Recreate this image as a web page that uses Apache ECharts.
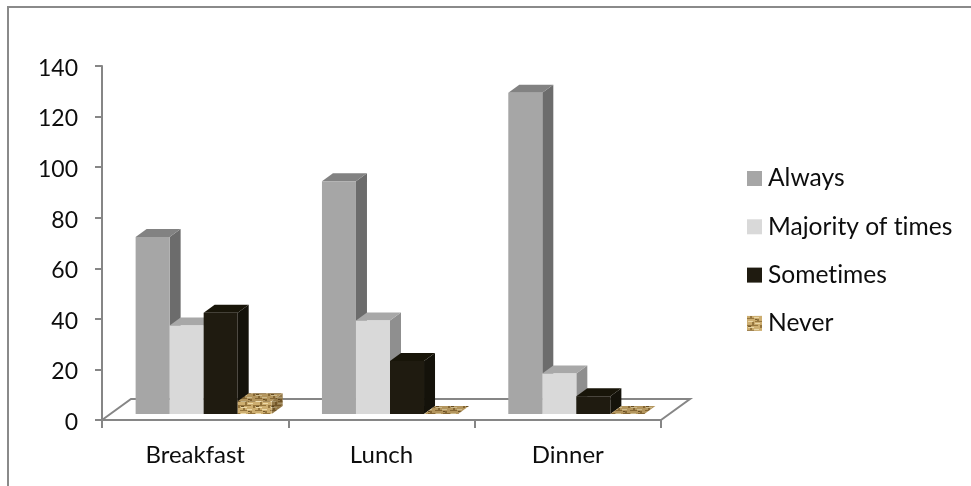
<!DOCTYPE html>
<html>
<head>
<meta charset="utf-8">
<style>html,body{margin:0;padding:0;background:#fff}#chart{width:971px;height:486px}</style>
<script src="https://cdn.jsdelivr.net/npm/echarts@6/dist/echarts.min.js"></script>
</head>
<body>
<div id="chart"></div>
<script>
// Meal-time frequencies, drawn as a pseudo-3D clustered column chart.
const categories = ['Breakfast', 'Lunch', 'Dinner'];
const always = [70, 92, 127];
const majority = [35, 37, 16];
const sometimes = [40, 21, 7];
const never = [5, 0, 0];
const yTicks = { min: 0, max: 140, interval: 20 };

const FONT = 'Lato, "Open Sans", sans-serif';
const AXIS_GREY = '#868686';
const TEXT = '#0d0d0d';

// Oblique projection: how far the floor and each column recede.
const FLOOR_DEPTH = [29, -21];
const BAR_DEPTH = [11, -8];
const BAR_INSET = [8.5, -6];
const BAR_BAND_SHARE = 0.1826;

// Keep "ti" as separate letters in canvas text instead of Lato's ligature.
const nativeGetContext = HTMLCanvasElement.prototype.getContext;
HTMLCanvasElement.prototype.getContext = function (kind, opts) {
  const ctx = nativeGetContext.call(this, kind, opts);
  if (kind === '2d' && ctx) ctx.textRendering = 'optimizeSpeed';
  return ctx;
};

// Woven tan texture for the last series, in three shades for the three faces.
function weave(shade) {
  const c = document.createElement('canvas');
  c.width = 15; c.height = 12;
  const g = c.getContext('2d');
  g.fillStyle = '#cdae70';
  g.fillRect(0, 0, 15, 12);
  g.fillStyle = '#94743c';
  g.fillRect(0, 2, 7, 1);
  g.fillRect(8, 5, 7, 1);
  g.fillRect(0, 9, 11, 1);
  g.fillRect(3, 0, 2, 2);
  g.fillRect(10, 3, 2, 2);
  g.fillRect(5, 6, 2, 3);
  g.fillRect(13, 9, 2, 3);
  g.fillStyle = '#ecd9a8';
  g.fillRect(7, 1, 5, 1);
  g.fillRect(1, 5, 5, 1);
  g.fillRect(8, 7, 5, 1);
  g.fillRect(1, 11, 6, 1);
  g.fillStyle = '#6f5528';
  g.fillRect(8, 3, 2, 1);
  g.fillRect(1, 10, 3, 1);
  if (shade > 0) {
    g.fillStyle = 'rgba(60,40,10,' + shade + ')';
    g.fillRect(0, 0, 15, 12);
  }
  return { image: c, repeat: 'repeat' };
}

const faces = [
  { name: 'Always', values: always, front: '#a6a6a6', side: '#6c6c6c', top: '#828282' },
  { name: 'Majority of times', values: majority, front: '#d9d9d9', side: '#8f8f8f', top: '#a8a8a8' },
  { name: 'Sometimes', values: sometimes, front: '#1f1b10', side: '#14120a', top: '#181509' },
  { name: 'Never', values: never, front: weave(0), side: weave(0.4), top: weave(0.18) }
];

function poly(points, fill) {
  return {
    type: 'polygon',
    shape: { points: points },
    style: { fill: fill }
  };
}

function columnRenderer(face, index) {
  return function (params, api) {
    const cat = api.value(0);
    const base = api.coord([cat, 0]);
    const head = api.coord([cat, api.value(1)]);
    const w = api.size([1, 0])[0] * BAR_BAND_SHARE;
    const x0 = base[0] + BAR_INSET[0] + (index - 2) * w;
    const x1 = x0 + w;
    const yb = base[1] + BAR_INSET[1];
    const yt = head[1] + BAR_INSET[1];
    const dx = BAR_DEPTH[0], dy = BAR_DEPTH[1];
    return {
      type: 'group',
      children: [
        poly([[x1, yb], [x1 + dx, yb + dy], [x1 + dx, yt + dy], [x1, yt]], face.side),
        poly([[x0, yt], [x1, yt], [x1 + dx, yt + dy], [x0 + dx, yt + dy]], face.top),
        poly([[x0, yb], [x1, yb], [x1, yt], [x0, yt]], face.front)
      ]
    };
  };
}

// Floor outline, anchored on the axis ends.
function floorRenderer(params, api) {
  const a = api.coord([0, 0]);
  const b = api.coord([categories.length - 1, 0]);
  const half = api.size([1, 0])[0] / 2;
  const left = a[0] - half, right = b[0] + half, y = a[1];
  return {
    type: 'polyline',
    shape: { points: [
      [left, y],
      [left + FLOOR_DEPTH[0], y + FLOOR_DEPTH[1]],
      [right + FLOOR_DEPTH[0], y + FLOOR_DEPTH[1]],
      [right, y]
    ] },
    style: { fill: null, stroke: AXIS_GREY, lineWidth: 2 }
  };
}

const series = [{
  type: 'custom',
  name: 'floor',
  silent: true,
  clip: false,
  z: 1,
  renderItem: floorRenderer,
  data: [[0, 0]]
}].concat(faces.map(function (face, i) {
  return {
    type: 'custom',
    name: face.name,
    clip: false,
    z: 2 + i,
    itemStyle: { color: face.front },
    encode: { x: 0, y: 1 },
    renderItem: columnRenderer(face, i),
    data: face.values.map(function (v, c) { return [c, v]; })
  };
}));

const chart = echarts.init(document.getElementById('chart'), null, { renderer: 'canvas' });
chart.setOption({
  animation: false,
  backgroundColor: '#fff',
  textStyle: { fontFamily: FONT },
  grid: { left: 102, right: 310, top: 66, bottom: 66, containLabel: false },
  xAxis: {
    type: 'category',
    data: categories,
    axisLine: { lineStyle: { color: AXIS_GREY, width: 2 } },
    axisTick: { show: true, length: 8, lineStyle: { color: AXIS_GREY, width: 2 } },
    axisLabel: { color: TEXT, fontSize: 24, fontFamily: FONT, margin: 23 },
    splitLine: { show: false }
  },
  yAxis: {
    type: 'value',
    min: yTicks.min,
    max: yTicks.max,
    interval: yTicks.interval,
    axisLine: { show: true, lineStyle: { color: AXIS_GREY, width: 2 } },
    axisTick: { show: true, length: 7, lineStyle: { color: AXIS_GREY, width: 2 } },
    axisLabel: { color: TEXT, fontSize: 23, fontFamily: FONT, margin: 24, verticalAlign: 'top', lineHeight: 5 },
    splitLine: { show: false }
  },
  legend: {
    orient: 'vertical',
    left: 747,
    top: 166,
    padding: 0,
    icon: 'rect',
    itemWidth: 15,
    itemHeight: 15,
    itemGap: 23.3,
    selectedMode: false,
    data: faces.map(function (f) { return f.name; }),
    textStyle: { color: TEXT, fontSize: 24.6, fontFamily: FONT, padding: [0, 0, 0, 1] }
  },
  // Open frame around the chart: only the left and top edges are drawn.
  graphic: [{
    type: 'polyline',
    silent: true,
    shape: { points: [[8, 486], [8, 7], [971, 7]] },
    style: { fill: null, stroke: '#8a8a8a', lineWidth: 2 }
  }],
  series: series
});
</script>
</body>
</html>
